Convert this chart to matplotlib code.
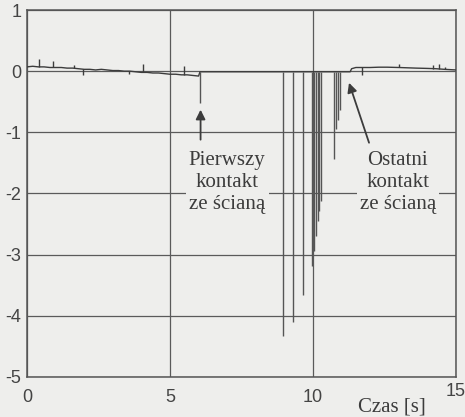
import matplotlib
matplotlib.use('Agg')
import matplotlib.pyplot as plt
import matplotlib.transforms as mtransforms
import numpy as np

# baseline of the force signal before the first contact
left_t = [0.0, 0.2, 0.4, 0.6, 0.8, 1.0, 1.2, 1.4, 1.6, 1.8, 2.0, 2.2, 2.4, 2.6,
          2.8, 3.0, 3.2, 3.4, 3.6, 3.8, 4.0, 4.2, 4.4, 4.6, 4.8, 5.0, 5.2, 5.4,
          5.6, 5.8, 6.0]
left_v = [0.07, 0.08, 0.07, 0.07, 0.06, 0.06, 0.06, 0.05, 0.05, 0.04, 0.03, 0.03,
          0.02, 0.03, 0.02, 0.01, 0.01, 0.00, 0.00, -0.01, -0.02, -0.02, -0.03,
          -0.03, -0.04, -0.05, -0.05, -0.06, -0.06, -0.07, -0.08]
# flat part while the robot touches the wall
mid_t = [6.05, 11.3]
mid_v = [-0.01, -0.01]
# after the last contact
right_t = [11.35, 11.5, 11.8, 12.0, 12.3, 12.6, 13.0, 13.3, 13.6, 14.0, 14.3,
           14.6, 15.0]
right_v = [0.04, 0.06, 0.06, 0.06, 0.065, 0.065, 0.06, 0.055, 0.05, 0.045,
           0.04, 0.03, 0.02]

# short spikes riding on the baseline
small_t = [0.42, 0.9, 1.65, 1.95, 3.55, 4.05, 5.5, 11.7, 13.0, 14.2, 14.4, 14.6]
small_v = [0.20, 0.17, 0.10, -0.06, -0.05, 0.11, 0.08, -0.06, 0.11, 0.10, 0.12, 0.06]

# impacts against the wall
hit_t = [6.05, 8.96, 9.31, 9.66, 9.97, 10.04, 10.10, 10.16, 10.22, 10.27,
         10.75, 10.82, 10.88, 10.94]
hit_v = [-0.52, -4.33, -4.10, -3.66, -3.18, -2.94, -2.70, -2.45, -2.29, -2.12,
         -1.43, -0.95, -0.80, -0.63]

bg = '#eeeeec'
ink = '#3c3c3c'

fig = plt.figure(figsize=(4.65, 4.17), dpi=100, facecolor=bg)
ax = fig.add_axes([0.058, 0.096, 0.9226, 0.88])
ax.set_facecolor(bg)

base_t = left_t + mid_t + right_t
base_v = left_v + mid_v + right_v
ax.plot(base_t, base_v, color=ink, lw=1.0, zorder=3)

foot = np.interp(small_t, base_t, base_v)
ax.vlines(small_t, foot, small_v, color=ink, lw=1.0, zorder=3)
ax.vlines(hit_t, np.interp(hit_t, base_t, base_v), hit_v, color='#555555',
          lw=1.0, zorder=3)

ax.set_xlim(0, 15)
ax.set_ylim(-5, 1)
ax.set_xticks([0, 5, 10, 15])
ax.set_yticks([1, 0, -1, -2, -3, -4, -5])
ax.set_yticklabels(['1', '0', '-1', '-2', '-3', '-4', '-5'])
ax.tick_params(length=0, labelsize=13, labelcolor='#444444')
ax.tick_params(axis='x', pad=9)
ax.tick_params(axis='y', pad=4)
for lab in ax.get_xticklabels() + ax.get_yticklabels():
    lab.set_family('Liberation Sans')
# the last x label sits a little higher
last = ax.get_xticklabels()[-1]
last.set_transform(last.get_transform() +
                   mtransforms.ScaledTranslation(0, 0.06, fig.dpi_scale_trans))

ax.grid(True, color='#5a5a5a', lw=0.9)
ax.set_axisbelow(True)
for s in ax.spines.values():
    s.set_color('#555555')
    s.set_linewidth(1.1)

txt = dict(family='Liberation Serif', fontsize=15, color=ink, ha='center',
           va='center', linespacing=1.2, zorder=4,
           bbox=dict(boxstyle='square,pad=0.15', fc=bg, ec='none'))
ax.text(7.0, -1.82, 'Pierwszy\nkontakt\nze ścianą', **txt)
ax.text(12.97, -1.82, 'Ostatni\nkontakt\nze ścianą', **txt)

arrow = dict(arrowstyle='-|>', color=ink, lw=1.3, mutation_scale=14,
             shrinkA=0, shrinkB=0)
ax.annotate('', xy=(6.07, -0.63), xytext=(6.07, -1.12), arrowprops=arrow)
ax.annotate('', xy=(11.26, -0.19), xytext=(11.96, -1.17), arrowprops=arrow)

fig.text(392 / 465, 1 - 407 / 417, 'Czas [s]', family='Liberation Serif',
         fontsize=15, color=ink, ha='center', va='center')

fig.savefig('out.png', dpi=100, facecolor=bg)
